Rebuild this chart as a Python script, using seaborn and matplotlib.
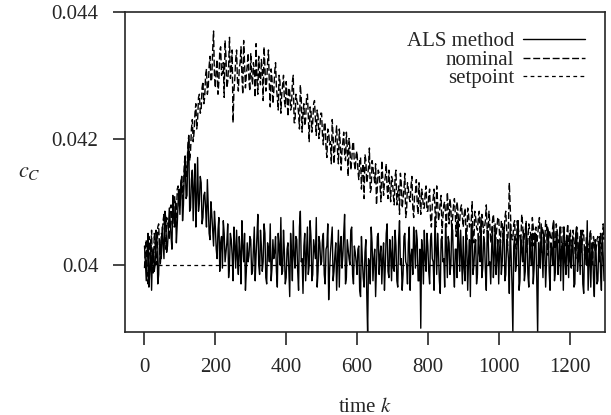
import numpy as np
import pandas as pd
import matplotlib
matplotlib.use("Agg")
import matplotlib.pyplot as plt
import seaborn as sns

# time axis: samples read every 2.5 steps (two interleaved sets)
k_a = np.arange(0, 1300, 5)
k_b = k_a + 2.5

# concentration values, in units of 1e-5
als_a = [
    4030, 3975, 4050, 3990, 3960, 4025, 4000, 4045, 3985, 4030, 4060, 4010, 4075, 4030, 4090, 4045, 4110, 4060, 4035, 4100,
    4080, 4140, 4095, 4165, 4110, 4200, 4090, 4150, 4125, 4060, 4170, 4100, 4130, 4075, 4115, 4060, 4095, 4040, 4080, 4030,
    4060, 4010, 4075, 4035, 3995, 4050, 4020, 4065, 4000, 4040, 3975, 4030, 4055, 3985, 4020, 4070, 4005, 3960, 4035, 4015,
    4040, 3990, 4060, 4015, 4080, 3985, 4030, 4005, 4050, 3970, 4025, 4065, 3995, 4010, 4045, 3965, 4030, 4075, 3990, 4020,
    3980, 4035, 3950, 4020, 4070, 3995, 4040, 3960, 4085, 4010, 4030, 3975, 4060, 4000, 4045, 3985, 4025, 4075, 3990, 4035,
    4005, 4050, 3970, 4030, 3945, 4020, 4060, 3990, 4035, 4010, 3965, 4045, 4015, 4080, 3980, 4025, 4000, 4060, 3970, 4020,
    3985, 4030, 3950, 4010, 3965, 4040, 3890, 4005, 4060, 3975, 4025, 3995, 4050, 4015, 3970, 4035, 4000, 4065, 3980, 4020,
    4045, 3990, 4030, 3965, 4070, 4010, 3985, 4050, 4000, 4035, 3960, 4025, 4060, 3995, 4040, 3975, 3900, 4020, 4055, 3990,
    4030, 3970, 4050, 4005, 4075, 3985, 4020, 3955, 4045, 4010, 4065, 3980, 4035, 4000, 4055, 3965, 4025, 4070, 3990, 4015,
    4045, 3975, 4030, 4010, 3950, 4060, 4000, 4040, 3985, 4020, 4075, 3995, 4035, 3960, 4050, 4005, 4025, 3980, 4065, 4010,
    3970, 4040, 4005, 4060, 3985, 4030, 3955, 4020, 3890, 4045, 4000, 4070, 3975, 4025, 4055, 3990, 4035, 3965, 4015, 4050,
    3995, 4040, 3890, 4020, 4065, 3980, 4030, 4005, 4055, 3960, 4025, 4070, 3990, 4045, 4010, 3975, 4035, 4060, 3985, 4020,
    4050, 3995, 4030, 3970, 4060, 4010, 3985, 4040, 3955, 4025, 4070, 4000, 3965, 4035, 3950, 4020, 3975, 4045, 3960, 4015,
]
als_b = [
    4005, 4020, 3965, 4040, 4015, 3990, 4055, 3970, 4040, 4010, 4035, 4085, 4020, 4055, 4070, 4025, 4080, 4100, 4065, 4120,
    4125, 4070, 4150, 4105, 4180, 4085, 4135, 4070, 4160, 4110, 4085, 4140, 4065, 4110, 4090, 4135, 4050, 4100, 4055, 4085,
    4025, 4055, 3990, 4045, 4070, 4005, 4035, 3980, 4050, 4015, 4060, 3995, 4010, 4045, 3970, 4030, 4050, 3990, 4005, 4045,
    3985, 4025, 3975, 4045, 4000, 4055, 3990, 4065, 3980, 4035, 4005, 3975, 4040, 4020, 3990, 4050, 4000, 3985, 4055, 3970,
    4025, 3995, 4050, 3975, 4015, 4045, 3990, 4060, 4005, 3955, 4050, 4020, 3985, 4070, 3975, 4040, 4010, 3965, 4045, 4000,
    4040, 3985, 4025, 4065, 3990, 4040, 3975, 4015, 3960, 4055, 4030, 3995, 4050, 3970, 4040, 4010, 4055, 3985, 4030, 4005,
    4025, 3960, 4045, 3980, 4020, 3955, 4010, 3970, 4035, 4010, 3950, 4045, 3985, 4030, 4010, 3960, 4050, 3990, 4040, 3975,
    3995, 4055, 3975, 4040, 4000, 3960, 4045, 4005, 3970, 4060, 4015, 3985, 4030, 4055, 3975, 4025, 4040, 3970, 4010, 4050,
    3990, 4040, 4010, 3960, 4030, 4050, 3975, 4040, 4005, 3965, 4030, 4045, 3985, 4060, 3995, 4025, 3980, 4035, 4055, 3970,
    3995, 4055, 3960, 4040, 4065, 3985, 4030, 3970, 4050, 4005, 3980, 4045, 3990, 4055, 4000, 3970, 4060, 4015, 3985, 4040,
    4025, 3985, 4055, 3975, 4040, 4010, 4065, 3970, 4030, 3990, 4050, 3960, 4040, 4005, 3975, 4060, 3985, 4045, 4000, 3970,
    4050, 3975, 4035, 3995, 4025, 4045, 3965, 4060, 3990, 4035, 4000, 3975, 4050, 3985, 4060, 4025, 3960, 4005, 4045, 3980,
    4005, 4040, 3965, 4050, 3990, 4035, 4055, 3970, 4030, 4000, 3960, 4045, 4020, 3980, 4040, 3970, 4030, 3990, 4050, 3975,
]

nominal_a = [
    3995, 4040, 3970, 4020, 4055, 3985, 4035, 4010, 4065, 4000, 4045, 4080, 4025, 4070, 4040, 4095, 4060, 4110, 4075, 4125,
    4090, 4140, 4120, 4175, 4150, 4205, 4180, 4230, 4210, 4255, 4230, 4270, 4245, 4290, 4265, 4310, 4280, 4330, 4295, 4370,
    4280, 4325, 4290, 4345, 4305, 4265, 4330, 4290, 4360, 4310, 4225, 4295, 4340, 4275, 4320, 4300, 4355, 4280, 4315, 4290,
    4335, 4285, 4310, 4350, 4270, 4300, 4325, 4260, 4315, 4290, 4340, 4250, 4295, 4275, 4320, 4265, 4300, 4240, 4285, 4260,
    4290, 4235, 4275, 4250, 4300, 4225, 4260, 4240, 4285, 4210, 4255, 4230, 4270, 4195, 4245, 4225, 4260, 4205, 4235, 4215,
    4240, 4190, 4225, 4170, 4210, 4195, 4230, 4160, 4205, 4180, 4215, 4150, 4195, 4175, 4210, 4140, 4185, 4165, 4195, 4150,
    4180, 4135, 4170, 4150, 4105, 4165, 4140, 4185, 4120, 4155, 4130, 4095, 4150, 4125, 4165, 4110, 4140, 4120, 4150, 4100,
    4135, 4095, 4150, 4115, 4080, 4130, 4105, 4145, 4085, 4120, 4100, 4140, 4075, 4115, 4095, 4130, 4080, 4110, 4090, 4125,
    4085, 4120, 4060, 4105, 4090, 4125, 4070, 4100, 4050, 4095, 4080, 4115, 4065, 4090, 4075, 4105, 4045, 4085, 4070, 4095,
    4060, 4090, 4040, 4080, 4065, 4100, 4035, 4075, 4055, 4085, 4030, 4070, 4060, 4095, 4040, 4065, 4050, 4080, 4025, 4060,
    4075, 4035, 4065, 4050, 4085, 4030, 4130, 4055, 4040, 4070, 4025, 4060, 4045, 4080, 4035, 4055, 4020, 4065, 4050, 4075,
    4030, 4060, 4045, 4075, 4020, 4055, 4035, 4065, 4015, 4050, 4040, 4070, 4025, 4055, 4035, 4060, 4010, 4045, 4030, 4065,
    4040, 4015, 4055, 4025, 4060, 4005, 4045, 4030, 4050, 4010, 4040, 4020, 4055, 4000, 4035, 4025, 4045, 4005, 4030, 4065,
]
nominal_b = [
    4025, 3980, 4045, 4005, 3990, 4050, 4000, 4060, 4025, 4050, 4070, 4035, 4075, 4055, 4090, 4065, 4100, 4080, 4120, 4095,
    4130, 4105, 4160, 4140, 4190, 4165, 4215, 4195, 4240, 4215, 4265, 4240, 4280, 4255, 4300, 4270, 4315, 4290, 4340, 4300,
    4310, 4270, 4340, 4300, 4320, 4355, 4280, 4315, 4295, 4340, 4275, 4325, 4290, 4310, 4345, 4270, 4320, 4300, 4335, 4275,
    4300, 4320, 4265, 4295, 4330, 4285, 4310, 4345, 4275, 4320, 4285, 4310, 4255, 4305, 4280, 4245, 4290, 4270, 4300, 4250,
    4265, 4280, 4245, 4290, 4225, 4270, 4255, 4215, 4265, 4240, 4220, 4265, 4235, 4250, 4210, 4255, 4230, 4245, 4200, 4240,
    4205, 4225, 4185, 4215, 4190, 4160, 4205, 4185, 4220, 4160, 4195, 4180, 4210, 4165, 4185, 4200, 4150, 4190, 4160, 4175,
    4150, 4165, 4120, 4160, 4175, 4130, 4155, 4115, 4165, 4140, 4160, 4125, 4145, 4100, 4140, 4130, 4160, 4105, 4125, 4140,
    4110, 4140, 4095, 4125, 4145, 4090, 4120, 4075, 4130, 4105, 4125, 4090, 4110, 4135, 4080, 4105, 4120, 4090, 4115, 4085,
    4110, 4075, 4095, 4120, 4060, 4100, 4080, 4110, 4075, 4100, 4060, 4090, 4105, 4055, 4095, 4080, 4100, 4060, 4090, 4075,
    4080, 4055, 4090, 4060, 4070, 4045, 4085, 4060, 4075, 4040, 4080, 4050, 4070, 4055, 4085, 4035, 4070, 4060, 4045, 4075,
    4045, 4070, 4040, 4075, 4055, 4060, 4090, 4040, 4065, 4030, 4070, 4050, 4035, 4065, 4045, 4070, 4040, 4055, 4030, 4060,
    4055, 4035, 4065, 4030, 4060, 4045, 4070, 4025, 4055, 4040, 4060, 4030, 4065, 4040, 4050, 4025, 4060, 4035, 4050, 4020,
    4055, 4030, 4040, 4010, 4050, 4035, 4020, 4055, 4015, 4045, 4030, 4050, 4010, 4045, 4020, 4040, 4025, 4050, 4015, 4040,
]

setpoint_k = [0, 1300]
setpoint = [0.04, 0.04]

# merge the two interleaved sample sets
k = np.column_stack([k_a, k_b]).ravel()
als = np.column_stack([als_a, als_b]).ravel() * 1e-5
nominal = np.column_stack([nominal_a, nominal_b]).ravel() * 1e-5

sns.set_style("ticks")
plt.rcParams['font.family'] = ['Liberation Serif', 'DejaVu Serif']
plt.rcParams['mathtext.fontset'] = 'stix'

fig = plt.figure(figsize=(6.11, 4.15), dpi=100)
ax = fig.add_axes([0.2046, 0.2, 0.7855, 0.771])

sns.lineplot(x=k, y=nominal, ax=ax, color='black', lw=1.0, label='nominal')
ax.lines[-1].set_dashes((5, 2))
sns.lineplot(x=k, y=als, ax=ax, color='black', lw=1.0, label='ALS method')
sns.lineplot(x=setpoint_k, y=setpoint, ax=ax, color='black', lw=0.9, label='setpoint')
ax.lines[-1].set_dashes((3, 2.7))

ax.set_xlim(-55, 1300)
ax.set_ylim(0.03894, 0.044)
ax.set_xticks([0, 200, 400, 600, 800, 1000, 1200])
ax.set_yticks([0.04, 0.042, 0.044])
ax.set_yticklabels(['0.04', '0.042', '0.044'])

for s in ax.spines.values():
    s.set_linewidth(1.2)
ax.tick_params(direction='out', length=9, width=1.2, labelsize=15)
ax.tick_params(axis='x', pad=9.5)
ax.tick_params(axis='y', pad=10)

ax.set_xlabel('time $k$', fontsize=15, labelpad=15)
ax.set_ylabel('$c_C$', fontsize=16, rotation=0, ha='center', va='center')
ax.yaxis.set_label_coords(-0.2, 0.5)

h, l = ax.get_legend_handles_labels()
order = [l.index('ALS method'), l.index('nominal'), l.index('setpoint')]
ax.legend([h[i] for i in order], [l[i] for i in order], loc='upper right',
          frameon=False, markerfirst=False, fontsize=15, handlelength=3.0,
          labelspacing=-0.05, borderaxespad=0.55, handletextpad=0.4)

fig.savefig('out.png', dpi=100)
